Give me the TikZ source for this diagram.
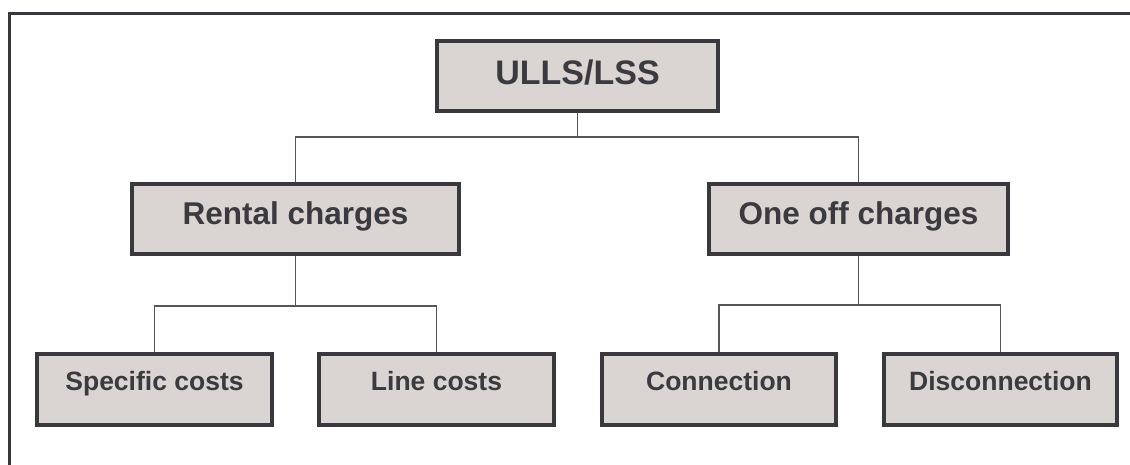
\documentclass[tikz,border=0pt]{standalone}
\usepackage{fontspec}
\setmainfont{Liberation Sans}
\definecolor{boxfill}{HTML}{DAD4D2}
\definecolor{boxline}{HTML}{38383D}
\definecolor{txt}{HTML}{3A3A3F}
\definecolor{conn}{HTML}{55555A}
\begin{document}
\begin{tikzpicture}[x=1pt,y=-1pt,
  box/.style={draw=boxline,line width=3.5pt,fill=boxfill,inner sep=0pt,minimum height=70pt},
  lbl/.style={anchor=base,text=txt,font=\bfseries,inner sep=0pt},
  big/.style={lbl,font=\bfseries\fontsize{34}{40}\selectfont},
  mid/.style={lbl,font=\bfseries\fontsize{31.5}{36}\selectfont},
  small/.style={lbl,font=\bfseries\fontsize{26.5}{30}\selectfont},
  link/.style={draw=conn,line width=1.5pt}]
\useasboundingbox (0,0) rectangle (1130,465);
\fill[white] (0,0) rectangle (1130,465);
% frame
\draw[boxline,line width=3.6pt] (9.5,470) -- (9.5,13.5) -- (1135,13.5);
% boxes
\node[box,minimum width=281pt] (top) at (577.5,76) {};
\node[box,minimum width=327pt] (rent) at (295.5,219) {};
\node[box,minimum width=299pt] (once) at (858.5,219) {};
\node[box,minimum width=235pt,minimum height=71pt] (spec) at (154.5,389.5) {};
\node[box,minimum width=235pt,minimum height=71pt] (line) at (436.5,389.5) {};
\node[box,minimum width=234pt,minimum height=71pt] (conx) at (719,389.5) {};
\node[box,minimum width=233pt,minimum height=71pt] (disc) at (1000.5,389.5) {};
% labels
\node[big] (ttop) at ([yshift=-9pt]top.center) {ULLS/LSS};
\node[mid] (trent) at ([yshift=-6pt]rent.center) {Rental charges};
\node[mid] (tonce) at ([yshift=-6pt]once.center) {One off charges};
\node[small] (tspec) at ([yshift=-0.5pt]spec.center) {Specific costs};
\node[small] (tline) at ([yshift=-0.5pt]line.center) {Line costs};
\node[small] (tconx) at ([yshift=-0.5pt]conx.center) {Connection};
\node[small] (tdisc) at ([yshift=-0.5pt]disc.center) {Disconnection};
% connectors
\coordinate (j1) at (577.5,137);
\coordinate (j2) at (295.5,306);
\coordinate (j3) at (858.5,305);
\draw[link] (top.south) -- (j1);
\draw[link] (j1) -| (rent.north);
\draw[link] (j1) -| (once.north);
\draw[link] (rent.south) -- (j2);
\draw[link] (j2) -| (spec.north);
\draw[link] (j2) -| (line.north);
\draw[link] (once.south) -- (j3);
\draw[link] (j3) -| (conx.north);
\draw[link] (j3) -| (disc.north);
\end{tikzpicture}
\end{document}
